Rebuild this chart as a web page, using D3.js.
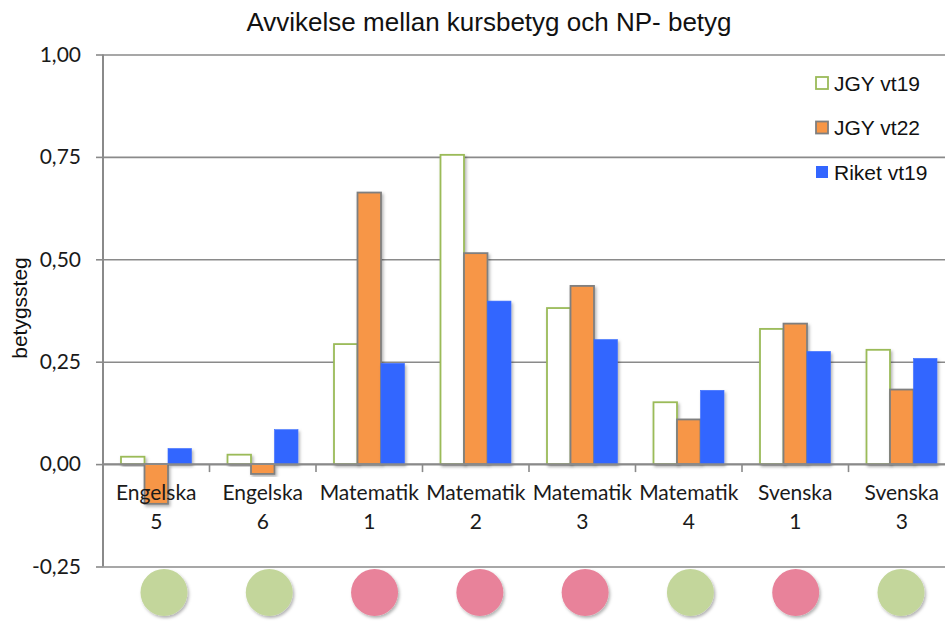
<!DOCTYPE html>
<html>
<head>
<meta charset="utf-8">
<script src="https://cdn.jsdelivr.net/npm/d3@7"></script>
<style>
  body { margin: 0; background: #fff; }
  svg { display: block; }
</style>
</head>
<body>
<div id="chart"></div>
<script>
// data
var categories = ["Engelska 5", "Engelska 6", "Matematik 1", "Matematik 2", "Matematik 3", "Matematik 4", "Svenska 1", "Svenska 3"];
var seriesNames = ["JGY vt19", "JGY vt22", "Riket vt19"];
var jgyVt19 = [0.018, 0.023, 0.293, 0.755, 0.381, 0.151, 0.330, 0.279];
var jgyVt22 = [-0.097, -0.024, 0.663, 0.515, 0.435, 0.109, 0.343, 0.182];
var riketVt19 = [0.038, 0.084, 0.246, 0.398, 0.304, 0.180, 0.275, 0.258];
var markers = ["green", "green", "pink", "pink", "pink", "green", "pink", "green"];
var yTicks = [-0.25, 0, 0.25, 0.5, 0.75, 1];

var W = 945, H = 623;
var plotLeft = 103, plotRight = 955, plotTop = 54.5, plotBottom = 566.5;

var fills = { "JGY vt19": "#ffffff", "JGY vt22": "#f79646", "Riket vt19": "#3366ff" };
var strokes = { "JGY vt19": "#9bbb59", "JGY vt22": "#7f7f7f", "Riket vt19": "#3a6cff" };
var markerColour = { green: "#c3d69b", pink: "#e8829a" };

var svg = d3.select("#chart").append("svg")
  .attr("width", W)
  .attr("height", H);

var defs = svg.append("defs");
var f = defs.append("filter").attr("id", "shadow")
  .attr("x", "-30%").attr("y", "-30%").attr("width", "160%").attr("height", "160%");
f.append("feDropShadow").attr("dx", 1.5).attr("dy", 2).attr("stdDeviation", 1.5)
  .attr("flood-color", "#000").attr("flood-opacity", 0.3);

var y = d3.scaleLinear().domain([-0.25, 1]).range([plotBottom, plotTop]);
var x0 = d3.scaleBand().domain(categories).range([plotLeft, plotRight]);
var x1 = d3.scaleBand().domain(seriesNames).range([18, 88.5]);
// the circles under the chart sit on their own spacing
var xc = d3.scalePoint().domain(categories).range([164, 901]);

var sv = d3.formatLocale({ decimal: ",", thousands: " ", grouping: [3], currency: ["", ""], minus: "-" });
var fmt = sv.format(".2f");

// gridlines
var grid = svg.append("g")
  .attr("transform", "translate(" + plotLeft + ",0)")
  .call(d3.axisLeft(y).tickValues(yTicks).tickSize(-(plotRight - plotLeft)).tickFormat(""));
grid.select(".domain").remove();
grid.selectAll("line").attr("stroke", "#8a8a8a").attr("stroke-width", 1.6);

// y axis labels + ticks
var yAxis = svg.append("g")
  .attr("transform", "translate(" + plotLeft + ",0)")
  .call(d3.axisLeft(y).tickValues(yTicks).tickSize(7).tickPadding(15).tickFormat(fmt));
yAxis.select(".domain").remove();
yAxis.selectAll("line").attr("stroke", "#8a8a8a").attr("stroke-width", 1.6);
yAxis.selectAll("text")
  .attr("font-family", "Lato, 'Open Sans', sans-serif")
  .attr("font-size", 21)
  .attr("fill", "#1a1a1a");

svg.append("line")
  .attr("x1", plotLeft).attr("x2", plotLeft)
  .attr("y1", y(1)).attr("y2", y(-0.25))
  .attr("stroke", "#8a8a8a").attr("stroke-width", 2);

// bars
var rows = categories.map(function(c, i) {
  return { cat: c, vals: [
    { s: "JGY vt19", v: jgyVt19[i] },
    { s: "JGY vt22", v: jgyVt22[i] },
    { s: "Riket vt19", v: riketVt19[i] }
  ] };
});

var groups = svg.append("g").selectAll("g")
  .data(rows).enter().append("g")
  .attr("transform", d => "translate(" + x0(d.cat) + ",0)");

groups.selectAll("rect")
  .data(d => d.vals).enter().append("rect")
  .attr("x", d => x1(d.s))
  .attr("y", d => Math.min(y(0), y(d.v)))
  .attr("width", x1.bandwidth())
  .attr("height", d => Math.abs(y(d.v) - y(0)))
  .attr("fill", d => fills[d.s])
  .attr("stroke", d => strokes[d.s])
  .attr("stroke-width", d => d.s == "Riket vt19" ? 0.6 : 1.8)
  .attr("filter", "url(#shadow)");

// category axis at zero
svg.append("line")
  .attr("x1", plotLeft).attr("x2", plotRight)
  .attr("y1", y(0)).attr("y2", y(0))
  .attr("stroke", "#8a8a8a").attr("stroke-width", 1.6);

svg.append("g").selectAll("line")
  .data(categories.slice(1)).enter().append("line")
  .attr("x1", d => x0(d)).attr("x2", d => x0(d))
  .attr("y1", y(0)).attr("y2", y(0) + 8)
  .attr("stroke", "#8a8a8a").attr("stroke-width", 1.6);

var labels = svg.append("g").selectAll("text")
  .data(categories).enter().append("text")
  .attr("text-anchor", "middle")
  .attr("font-family", "Lato, 'Open Sans', sans-serif")
  .attr("font-size", 21)
  .attr("fill", "#1a1a1a");
labels.append("tspan")
  .attr("x", d => x0(d) + x0.bandwidth() / 2)
  .attr("y", y(0) + 36)
  .text(d => d.split(" ")[0]);
labels.append("tspan")
  .attr("x", d => x0(d) + x0.bandwidth() / 2)
  .attr("y", y(0) + 65)
  .text(d => d.split(" ")[1]);

// status circles under the chart
svg.append("g").selectAll("circle")
  .data(categories).enter().append("circle")
  .attr("cx", d => xc(d))
  .attr("cy", 592.5)
  .attr("r", 23.5)
  .attr("fill", (d, i) => markerColour[markers[i]])
  .attr("filter", "url(#shadow)");

// title
svg.append("text")
  .attr("x", 489)
  .attr("y", 31)
  .attr("text-anchor", "middle")
  .attr("font-family", "'Liberation Sans', Arial, sans-serif")
  .attr("font-size", 26)
  .attr("fill", "#111")
  .text("Avvikelse mellan kursbetyg och NP- betyg");

// y axis title
svg.append("text")
  .attr("transform", "translate(27,308) rotate(-90)")
  .attr("text-anchor", "middle")
  .attr("font-family", "'Liberation Sans', Arial, sans-serif")
  .attr("font-size", 21)
  .attr("fill", "#111")
  .text("betygssteg");

// legend
var legend = svg.append("g").selectAll("g")
  .data(seriesNames).enter().append("g")
  .attr("transform", (d, i) => "translate(816," + (83 + i * 44.5) + ")");
legend.append("rect")
  .attr("x", 0).attr("y", -6)
  .attr("width", 12).attr("height", 12)
  .attr("fill", d => fills[d])
  .attr("stroke", d => strokes[d])
  .attr("stroke-width", d => d == "Riket vt19" ? 0 : 1.8);
legend.append("text")
  .attr("x", 18).attr("y", 7.5)
  .attr("font-family", "'Liberation Sans', Arial, sans-serif")
  .attr("font-size", 21)
  .attr("fill", "#111")
  .text(d => d);
</script>
</body>
</html>
